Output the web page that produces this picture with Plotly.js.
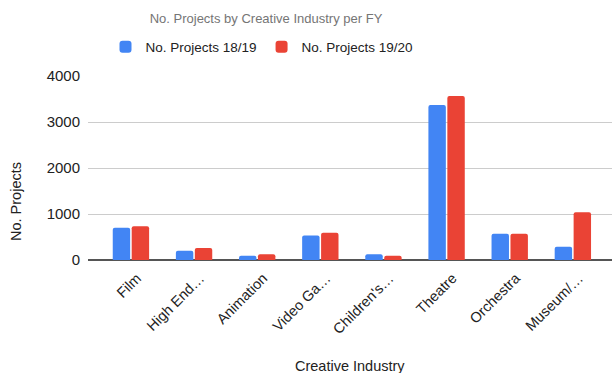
<!DOCTYPE html>
<html><head><meta charset="utf-8">
<script src="https://cdn.plot.ly/plotly-3.0.1.min.js"></script>
<style>html,body{margin:0;padding:0;background:#fff}#c{width:612px;height:373px}</style>
</head><body><div id="c"></div>
<script>
const categories = ["Film","High End…","Animation","Video Ga…","Children's…","Theatre","Orchestra","Museum/…"];
const projects1819 = [702, 203, 95, 535, 123, 3372, 571, 290];
const projects1920 = [736, 260, 123, 593, 95, 3567, 568, 1040];
const seriesNames = ["No. Projects 18/19", "No. Projects 19/20"];
const yTicks = [0, 1000, 2000, 3000, 4000];

const FONT = "Arial, 'Liberation Sans', Helvetica, sans-serif";
const traces = [
  {type:'bar', name:seriesNames[0], x:categories, y:projects1819, marker:{color:'#4285F4'}},
  {type:'bar', name:seriesNames[1], x:categories, y:projects1920, marker:{color:'#EA4335'}}
];
const layout = {
  width:612, height:373,
  margin:{l:88, r:0, t:76, b:113},
  paper_bgcolor:'#fff', plot_bgcolor:'#fff',
  font:{family:FONT, color:'#222', size:14},
  title:{text:"No. Projects by Creative Industry per FY", font:{family:FONT, size:13, color:'#757575'},
    xref:'container', x:266/612, xanchor:'center', yref:'container', y:1-18/373, yanchor:'middle'},
  showlegend:true,
  legend:{orientation:'h', xref:'container', x:262/612, xanchor:'center', yref:'container', y:1-47/373, yanchor:'middle',
    font:{family:FONT, size:13.5, color:'#222'}, itemwidth:30, traceorder:'normal'},
  barmode:'group', bargap:0.4, bargroupgap:0.08, barcornerradius:2,
  xaxis:{type:'category', range:[-0.68, 7.62], tickangle:-45, tickfont:{family:FONT, size:14.5, color:'#222'},
    showgrid:false, ticks:'', showline:false, zeroline:false, ticklabelstandoff:6, ticklabelshift:6,
    automargin:false},
  yaxis:{range:[0,4000], tickvals:yTicks, ticktext:yTicks.map(String), tickfont:{family:FONT, size:15, color:'#222'},
    gridcolor:'#cccccc', gridwidth:1, zeroline:true, zerolinecolor:'#555', zerolinewidth:1.5,
    showline:false, ticks:'', ticklen:0, ticklabelstandoff:7, automargin:false},
  annotations:[
    {text:"No. Projects", textangle:-90, xref:'paper', x:0, xanchor:'center', xshift:-72, yref:'paper', y:(260-202)/184, yanchor:'middle',
      showarrow:false, font:{family:FONT, size:14.5, color:'#222'}},
    {text:"Creative Industry", xref:'paper', x:0.5, xanchor:'center', yref:'paper', y:0, yshift:-106, yanchor:'middle',
      showarrow:false, font:{family:FONT, size:14.5, color:'#222'}}
  ]
};
Plotly.newPlot('c', traces, layout, {displayModeBar:false, staticPlot:true});
</script></body></html>
